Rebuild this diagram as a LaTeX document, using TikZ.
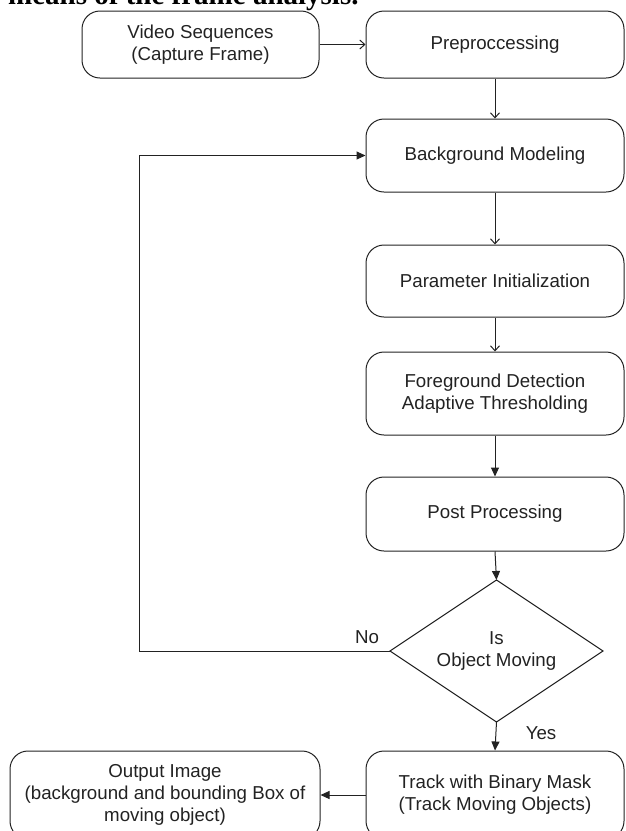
\documentclass[tikz,border=0pt]{standalone}
\usepackage{fontspec}
\setmainfont{Liberation Sans}
\newfontfamily\serifpaper{Liberation Serif}
\usetikzlibrary{shapes.geometric,arrows.meta}
\definecolor{ink}{HTML}{222222}
\tikzset{
  box/.style={draw=ink, line width=1pt, rounded corners=18pt, minimum width=258pt,
    align=center, inner sep=0pt, text=ink, font=\fontsize{18.7}{22}\selectfont},
  dec/.style={draw=ink, line width=1pt, shape=diamond, aspect=1.5, inner sep=0pt, outer sep=0pt,
    minimum width=213pt, minimum height=142pt, align=center, text=ink,
    font=\fontsize{18.7}{22}\selectfont},
  lbl/.style={text=ink, inner sep=0pt, font=\fontsize{18.7}{22}\selectfont},
  openarr/.style={draw=ink, line width=1pt, -{Straight Barb[length=5pt,width=9pt]}},
  fillarr/.style={draw=ink, line width=1pt, -{Triangle[length=9pt,width=8pt]}},
}
\begin{document}
\begin{tikzpicture}[x=1pt,y=-1pt]
\useasboundingbox (0,0) rectangle (625,831);
\clip (0,0) rectangle (625,831);
\node[anchor=base west, inner sep=0pt, text=black, font=\serifpaper\bfseries\fontsize{29}{34}\selectfont] (cap) at (8,4) {means of the frame analysis.};
\node[box, minimum width=237pt, minimum height=67pt] (vid) at (200.5,44.5) {Video Sequences\\(Capture Frame)};
\node[box, minimum height=67pt] (pre) at (495,44.5) {Preproccessing};
\node[box, minimum height=73pt] (bg) at (495,155.5) {Background Modeling};
\node[box, minimum height=72pt] (par) at (495,281) {Parameter Initialization};
\node[box, minimum height=83pt] (fg) at (495,393.5) {Foreground Detection\\Adaptive Thresholding};
\node[box, minimum height=74pt] (post) at (495,514) {Post Processing};
\node[dec] (dia) at (496.5,651) {Is\\Object Moving};
\node[box, minimum height=88pt] (trk) at (495,795) {Track with Binary Mask\\(Track Moving Objects)};
\node[box, minimum width=310pt, minimum height=88pt] (out) at (165,795) {Output Image\\(background and bounding Box of\\moving object)};
\node[lbl] (no) at (367,637) {No};
\node[lbl] (yes) at (541,733) {Yes};
\coordinate (lp) at (139,651);
\draw[openarr] (vid) -- (pre);
\draw[openarr] (pre) -- (bg);
\draw[openarr] (bg) -- (par);
\draw[openarr] (par) -- (fg);
\draw[fillarr] (fg) -- (post);
\draw[fillarr] (post.south) -- (dia.north);
\draw[fillarr] (dia.south) -- (trk.north);
\draw[fillarr] (trk.west) -- (out.east);
\draw[fillarr] (dia.west) -- (lp) |- (bg.west);
\end{tikzpicture}
\end{document}
